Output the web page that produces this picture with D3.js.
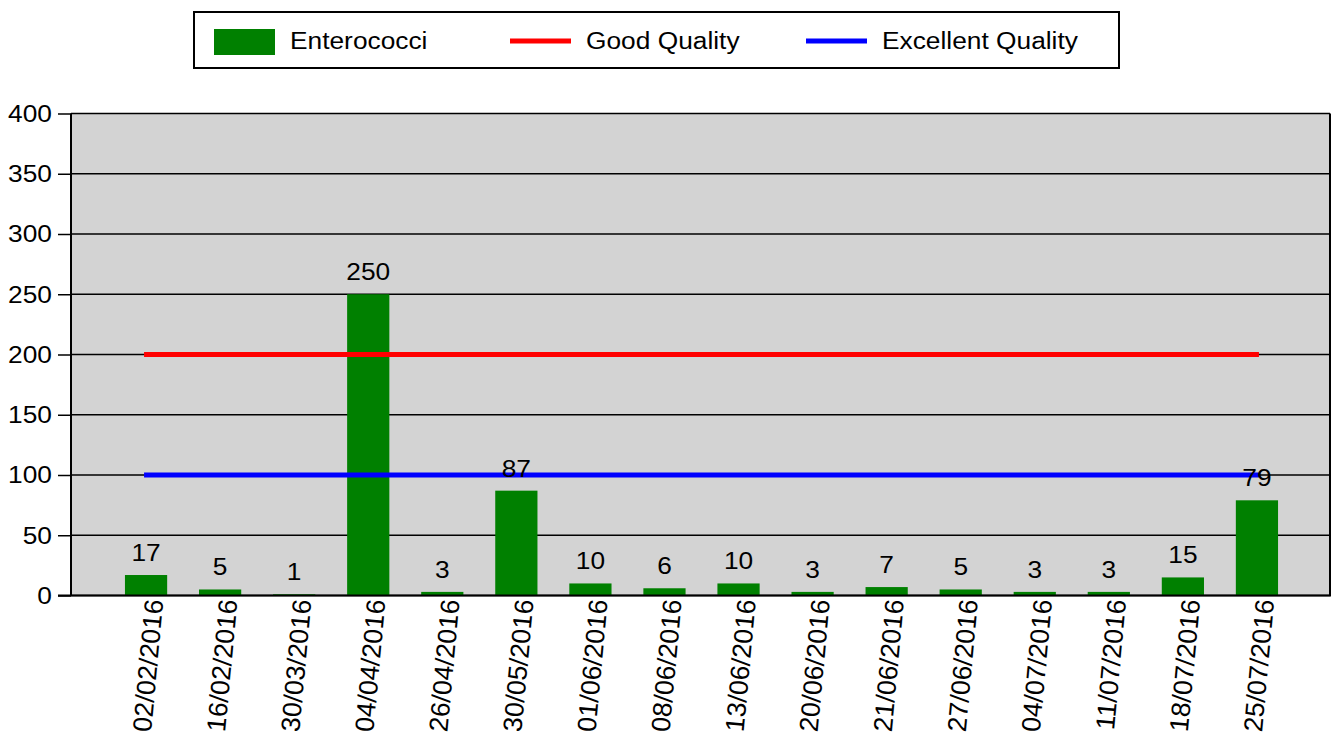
<!DOCTYPE html>
<html>
<head>
<meta charset="utf-8">
<script src="https://cdn.jsdelivr.net/npm/d3@7"></script>
<style>
  body { margin: 0; background: #fff; }
  text { font-family: "Liberation Sans", Arial, sans-serif; fill: #000; }
</style>
</head>
<body>
<svg id="chart" width="1333" height="735"></svg>
<script>

/*************************** Data ***************************/

var dates = ["02/02/2016","16/02/2016","30/03/2016","04/04/2016","26/04/2016","30/05/2016",
             "01/06/2016","08/06/2016","13/06/2016","20/06/2016","21/06/2016","27/06/2016",
             "04/07/2016","11/07/2016","18/07/2016","25/07/2016"];
var enterococci = [17, 5, 1, 250, 3, 87, 10, 6, 10, 3, 7, 5, 3, 3, 15, 79];
var good_quality = 200;
var excellent_quality = 100;
var y_ticks = [0, 50, 100, 150, 200, 250, 300, 350, 400];
var legend_items = [
  { name: "Enterococci", type: "bar", color: "#008000" },
  { name: "Good Quality", type: "line", color: "#ff0000" },
  { name: "Excellent Quality", type: "line", color: "#0000ff" }
];

/*************************** Layout ***************************/

var svg = d3.select("#chart");
var plot = { left: 71, right: 1330, top: 113.5, bottom: 595.5 };
var font_size = 23.5, stretch = 1.12;   // text in the picture is a bit wider than tall

var x = d3.scalePoint().domain(dates).range([plot.left + 1, plot.right + 1]).padding(1);
var step = x.step();
var bar_w = step * 0.57;
var y = d3.scaleLinear().domain([0, 400]).range([plot.bottom, plot.top]);

function stretchedText(g, tx, ty, anchor, str){
  return g.append("text")
    .attr("transform", "translate(" + tx + "," + ty + ") scale(" + stretch + ",1)")
    .attr("text-anchor", anchor)
    .style("font-size", font_size + "px")
    .text(str);
}

// background
svg.append("rect")
  .attr("x", plot.left).attr("y", plot.top)
  .attr("width", plot.right - plot.left).attr("height", plot.bottom - plot.top)
  .style("fill", "#d3d3d3");

// gridlines
svg.append("g").selectAll("line").data(y_ticks).enter().append("line")
  .attr("x1", plot.left).attr("x2", plot.right)
  .attr("y1", function(d){ return y(d); }).attr("y2", function(d){ return y(d); })
  .style("stroke", "#000").style("stroke-width", 1.5);

/*************************** Bars ***************************/

svg.append("g").selectAll("rect").data(enterococci).enter().append("rect")
  .attr("x", function(d, i){ return x(dates[i]) - bar_w / 2; })
  .attr("y", function(d){ return y(d); })
  .attr("width", bar_w)
  .attr("height", function(d){ return y(0) - y(d); })
  .style("fill", "#008000");

/*************************** Threshold lines ***************************/

var lines = [{ v: good_quality, c: "#ff0000" }, { v: excellent_quality, c: "#0000ff" }];
svg.append("g").selectAll("line").data(lines).enter().append("line")
  .attr("x1", x(dates[0]) - 2).attr("x2", x(dates[dates.length - 1]) + 2)
  .attr("y1", function(d){ return y(d.v); }).attr("y2", function(d){ return y(d.v); })
  .style("stroke", function(d){ return d.c; }).style("stroke-width", 5);

// value labels
var vl = svg.append("g");
enterococci.forEach(function(d, i){
  stretchedText(vl, x(dates[i]), y(d) - 14, "middle", d);
});

/*************************** Axes ***************************/

var yAxis = d3.axisLeft(y).tickValues(y_ticks).tickSize(13).tickFormat("");
var gy = svg.append("g").attr("transform", "translate(" + plot.left + ",0)").call(yAxis);
gy.select(".domain").remove();
gy.selectAll(".tick line").style("stroke", "#000").style("stroke-width", 1.5);

var yl = svg.append("g");
y_ticks.forEach(function(t){
  stretchedText(yl, 52, y(t) + 8.3, "end", t);
});

// axis frame
svg.append("line").attr("x1", plot.left).attr("x2", plot.left).attr("y1", plot.top).attr("y2", plot.bottom)
  .style("stroke", "#000").style("stroke-width", 2);
svg.append("line").attr("x1", plot.right).attr("x2", plot.right).attr("y1", plot.top).attr("y2", plot.bottom)
  .style("stroke", "#000").style("stroke-width", 2);
svg.append("line").attr("x1", plot.left - 13).attr("x2", plot.right + 1).attr("y1", plot.bottom).attr("y2", plot.bottom)
  .style("stroke", "#000").style("stroke-width", 2);

// x labels
svg.append("g").selectAll("text").data(dates).enter().append("text")
  .attr("transform", function(d){ return "translate(" + (x(d) + 8) + "," + (plot.bottom + 4) + ") rotate(-84.7)"; })
  .attr("text-anchor", "end")
  .attr("dy", "0.35em")
  .style("font-size", "26.5px")
  .text(function(d){ return d; });

/*************************** Legend ***************************/

var legend = svg.append("g");
legend.append("rect")
  .attr("x", 194).attr("y", 12).attr("width", 925).attr("height", 56)
  .style("fill", "#fff").style("stroke", "#000").style("stroke-width", 2);

var legend_x = [214, 510, 806];
legend_items.forEach(function(item, i){
  var lx = legend_x[i];
  if(item.type == "bar"){
    legend.append("rect").attr("x", lx).attr("y", 29).attr("width", 61).attr("height", 26)
      .style("fill", item.color);
  } else {
    legend.append("line").attr("x1", lx).attr("x2", lx + 61).attr("y1", 41).attr("y2", 41)
      .style("stroke", item.color).style("stroke-width", 5);
  }
  stretchedText(legend, lx + 76, 48.5, "start", item.name);
});

</script>
</body>
</html>
